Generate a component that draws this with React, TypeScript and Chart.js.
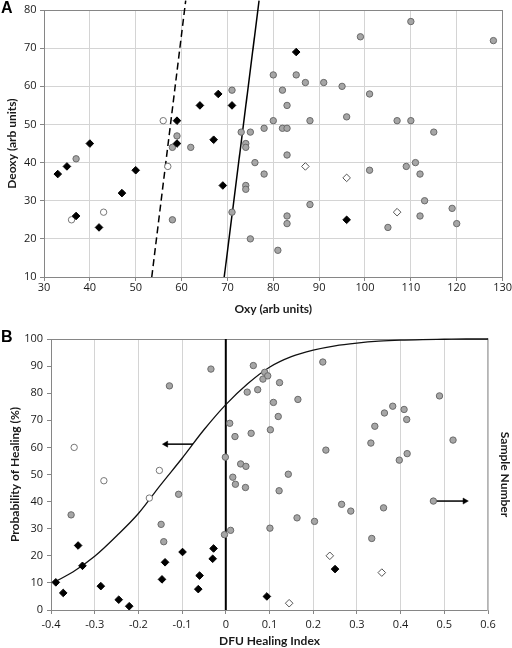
import React, { useEffect, useRef } from 'react';
import { Chart, registerables } from 'chart.js';
Chart.register(...registerables);

// ---------- Panel A data ----------
const aXTicks = [30, 40, 50, 60, 70, 80, 90, 100, 110, 120, 130];
const aYTicks = [10, 20, 30, 40, 50, 60, 70, 80];

const aGrayOxy = [37, 58, 59, 62, 58, 71, 73, 75, 74, 74, 74, 74, 71, 75, 76, 78, 78, 80, 80, 81, 82, 82, 83, 83, 83, 83, 83, 85, 87, 88, 88, 91, 95, 96, 99, 101, 101, 105, 107, 109, 110, 110, 111, 112, 112, 113, 115, 119, 120, 128];
const aGrayDeoxy = [41, 44, 47, 44, 25, 59, 48, 48, 45, 44, 34, 33, 27, 20, 40, 37, 49, 63, 51, 17, 59, 49, 55, 49, 42, 26, 24, 63, 61, 51, 29, 61, 60, 52, 73, 58, 38, 23, 51, 39, 77, 51, 40, 37, 26, 30, 48, 28, 24, 72];

const aBlackOxy = [33, 35, 37, 40, 42, 47, 50, 59, 59, 64, 67, 68, 69, 71, 85, 96];
const aBlackDeoxy = [37, 39, 26, 45, 23, 32, 38, 51, 45, 55, 46, 58, 34, 55, 69, 25];

const aOpenCircleOxy = [36, 43, 56, 57];
const aOpenCircleDeoxy = [25, 27, 51, 39];

const aOpenDiamondOxy = [87, 96, 107];
const aOpenDiamondDeoxy = [39, 36, 27];

const aDashedOxy = [53.5, 60.9];
const aDashedDeoxy = [10, 82.5];
const aSolidOxy = [69.3, 76.9];
const aSolidDeoxy = [10, 82.5];

// ---------- Panel B data ----------
const bXTicks = [-0.4, -0.3, -0.2, -0.1, 0, 0.1, 0.2, 0.3, 0.4, 0.5, 0.6];
const bYTicks = [0, 10, 20, 30, 40, 50, 60, 70, 80, 90, 100];

const bGrayIndex = [-0.354, -0.129, -0.108, -0.148, -0.142, -0.034, -0.003, -0.001, 0.009, 0.011, 0.016, 0.022, 0.021, 0.034, 0.045, 0.046, 0.049, 0.058, 0.063, 0.073, 0.085, 0.089, 0.096, 0.101, 0.102, 0.109, 0.120, 0.122, 0.123, 0.143, 0.163, 0.165, 0.203, 0.222, 0.229, 0.265, 0.286, 0.332, 0.334, 0.341, 0.361, 0.363, 0.382, 0.397, 0.408, 0.414, 0.415, 0.475, 0.489, 0.520];
const bGrayProb = [35.1, 82.7, 42.7, 31.6, 25.2, 88.9, 27.8, 56.4, 68.9, 29.4, 49.0, 46.4, 64.0, 53.9, 45.2, 53.0, 80.4, 65.2, 90.2, 81.3, 85.2, 87.7, 86.4, 30.2, 66.5, 76.6, 71.4, 44.0, 83.9, 50.1, 34.0, 77.7, 32.7, 91.5, 59.0, 39.0, 36.5, 61.6, 26.4, 67.8, 37.7, 72.7, 75.2, 55.3, 74.0, 70.3, 57.7, 40.2, 79.0, 62.7];

const bBlackIndex = [-0.389, -0.372, -0.338, -0.328, -0.286, -0.245, -0.221, -0.146, -0.139, -0.099, -0.063, -0.060, -0.030, -0.028, 0.094, 0.250];
const bBlackProb = [10.2, 6.3, 23.8, 16.3, 8.8, 3.8, 1.4, 11.3, 17.6, 21.4, 7.7, 12.7, 18.9, 22.7, 5.0, 15.1];

const bOpenCircleIndex = [-0.347, -0.279, -0.175, -0.152];
const bOpenCircleProb = [60.0, 47.7, 41.3, 51.5];

const bOpenDiamondIndex = [0.145, 0.238, 0.357];
const bOpenDiamondProb = [2.5, 20.0, 13.8];

const bCurveIndex = [-0.39, -0.35, -0.30, -0.25, -0.20, -0.15, -0.10, -0.05, 0.00, 0.05, 0.10, 0.15, 0.20, 0.25, 0.30, 0.35, 0.40, 0.45, 0.50, 0.55, 0.60];
const bCurveProb = [10.5, 14.0, 19.8, 27.3, 35.6, 46.0, 56.0, 66.5, 75.8, 83.5, 89.6, 93.5, 95.9, 97.5, 98.5, 99.2, 99.6, 99.8, 99.9, 100, 100];

const bZeroIndex = [0, 0];
const bZeroProb = [0, 100];

const bLeftArrowIndex = [-0.075, -0.137];
const bLeftArrowProb = [61.2, 61.2];
const bRightArrowIndex = [0.475, 0.547];
const bRightArrowProb = [40.2, 40.2];

// ---------- helpers ----------
const zip = (xs: number[], ys: number[]) => xs.map((x, i) => ({ x, y: ys[i] }));

const TICK_FONT = { family: "'Open Sans', 'DejaVu Sans', sans-serif", size: 11 };
const TITLE_FONT = { family: "Lato, 'Open Sans', sans-serif", size: 12, weight: 'bold' as const };
const AXIS_COLOR = '#868686';
const GRID_COLOR = '#d4d4d4';
const TEXT_COLOR = '#1a1a1a';

const GRAY_FILL = '#a6a6a6';
const GRAY_EDGE = '#6a6a6a';

function framePlugin(topColor: string, rightColor: string | null) {
  return {
    id: 'frame',
    beforeDatasetsDraw(chart: any) {
      const { ctx, chartArea } = chart;
      const { left, right, top, bottom } = chartArea;
      ctx.save();
      ctx.lineWidth = 1;
      ctx.strokeStyle = topColor;
      ctx.beginPath();
      ctx.moveTo(left, Math.round(top) + 0.5);
      ctx.lineTo(right, Math.round(top) + 0.5);
      ctx.stroke();
      if (rightColor) {
        ctx.strokeStyle = rightColor;
        ctx.beginPath();
        ctx.moveTo(Math.round(right) - 0.5, top);
        ctx.lineTo(Math.round(right) - 0.5, bottom);
        ctx.stroke();
      }
      ctx.restore();
    },
  };
}

function PanelA() {
  const ref = useRef<HTMLCanvasElement>(null);
  useEffect(() => {
    if (!ref.current) return;
    const chart = new Chart(ref.current, {
      type: 'scatter',
      data: {
        datasets: [
          {
            label: 'black',
            data: zip(aBlackOxy, aBlackDeoxy),
            pointStyle: 'rectRot',
            pointRadius: 3.8,
            backgroundColor: '#000',
            borderColor: '#000',
            borderWidth: 1,
            order: 0,
          },
          {
            label: 'gray',
            data: zip(aGrayOxy, aGrayDeoxy),
            pointStyle: 'circle',
            pointRadius: 3.2,
            backgroundColor: GRAY_FILL,
            borderColor: GRAY_EDGE,
            borderWidth: 1,
            order: 0,
          },
          {
            label: 'open circle',
            data: zip(aOpenCircleOxy, aOpenCircleDeoxy),
            pointStyle: 'circle',
            pointRadius: 3.2,
            backgroundColor: '#fff',
            borderColor: '#777',
            borderWidth: 1,
            order: 0,
          },
          {
            label: 'open diamond',
            data: zip(aOpenDiamondOxy, aOpenDiamondDeoxy),
            pointStyle: 'rectRot',
            pointRadius: 3.8,
            backgroundColor: '#fff',
            borderColor: '#555',
            borderWidth: 1,
            order: 0,
          },
          {
            label: 'dashed',
            data: zip(aDashedOxy, aDashedDeoxy),
            showLine: true,
            pointRadius: 0,
            borderColor: '#000',
            borderWidth: 1.5,
            borderDash: [7, 4],
            clip: false as any,
            order: 1,
          },
          {
            label: 'solid',
            data: zip(aSolidOxy, aSolidDeoxy),
            showLine: true,
            pointRadius: 0,
            borderColor: '#000',
            borderWidth: 1.5,
            clip: false as any,
            order: 1,
          },
        ],
      },
      options: {
        animation: false,
        responsive: false,
        layout: { padding: { left: 0, right: 9, top: 10, bottom: 0 } },
        plugins: { legend: { display: false }, tooltip: { enabled: false } },
        scales: {
          x: {
            type: 'linear',
            min: aXTicks[0],
            max: aXTicks[aXTicks.length - 1],
            afterBuildTicks: (s: any) => { s.ticks = aXTicks.map((v) => ({ value: v })); },
            afterFit: (s: any) => { s.height = 45; },
            ticks: { font: TICK_FONT, color: TEXT_COLOR, padding: 0, maxRotation: 0 },
            grid: { color: GRID_COLOR, tickColor: AXIS_COLOR, tickLength: 4 },
            border: { color: AXIS_COLOR },
            title: { display: true, text: 'Oxy (arb units)', font: TITLE_FONT, color: TEXT_COLOR, padding: { top: 0, bottom: 6 } },
          },
          y: {
            type: 'linear',
            min: aYTicks[0],
            max: aYTicks[aYTicks.length - 1],
            afterBuildTicks: (s: any) => { s.ticks = aYTicks.map((v) => ({ value: v })); },
            afterFit: (s: any) => { s.width = 44; },
            ticks: { font: TICK_FONT, color: TEXT_COLOR, padding: 3.5 },
            grid: { color: GRID_COLOR, tickColor: AXIS_COLOR, tickLength: 4 },
            border: { color: AXIS_COLOR },
            title: { display: true, text: 'Deoxy (arb units)', font: TITLE_FONT, color: TEXT_COLOR, padding: { top: 5, bottom: 0 } },
          },
        },
      } as any,
      plugins: [framePlugin(AXIS_COLOR, AXIS_COLOR)],
    });
    return () => chart.destroy();
  }, []);
  return <canvas ref={ref} width={512} height={322} style={{ position: 'absolute', left: 0, top: 0, width: 512, height: 322 }} />;
}

function PanelB() {
  const ref = useRef<HTMLCanvasElement>(null);
  useEffect(() => {
    if (!ref.current) return;
    const chart = new Chart(ref.current, {
      type: 'scatter',
      data: {
        datasets: [
          {
            label: 'black',
            data: zip(bBlackIndex, bBlackProb),
            pointStyle: 'rectRot',
            pointRadius: 3.8,
            backgroundColor: '#000',
            borderColor: '#000',
            borderWidth: 1,
            order: 0,
          },
          {
            label: 'gray',
            data: zip(bGrayIndex, bGrayProb),
            pointStyle: 'circle',
            pointRadius: 3.2,
            backgroundColor: GRAY_FILL,
            borderColor: GRAY_EDGE,
            borderWidth: 1,
            order: 0,
          },
          {
            label: 'open circle',
            data: zip(bOpenCircleIndex, bOpenCircleProb),
            pointStyle: 'circle',
            pointRadius: 3.2,
            backgroundColor: '#fff',
            borderColor: '#777',
            borderWidth: 1,
            order: 0,
          },
          {
            label: 'open diamond',
            data: zip(bOpenDiamondIndex, bOpenDiamondProb),
            pointStyle: 'rectRot',
            pointRadius: 3.8,
            backgroundColor: '#fff',
            borderColor: '#555',
            borderWidth: 1,
            order: 0,
          },
          {
            label: 'curve',
            data: zip(bCurveIndex, bCurveProb),
            showLine: true,
            pointRadius: 0,
            borderColor: '#111',
            borderWidth: 1.3,
            cubicInterpolationMode: 'monotone',
            clip: false as any,
            order: 2,
          },
          {
            label: 'zero',
            data: zip(bZeroIndex, bZeroProb),
            showLine: true,
            pointRadius: 0,
            borderColor: '#000',
            borderWidth: 2,
            order: 3,
          },
          {
            label: 'left arrow',
            data: zip(bLeftArrowIndex, bLeftArrowProb),
            showLine: true,
            pointRadius: [0, 3.5],
            pointStyle: 'triangle',
            rotation: -90,
            pointBackgroundColor: '#000',
            pointBorderColor: '#000',
            pointBorderWidth: 0.5,
            borderColor: '#000',
            borderWidth: 1.5,
            order: 1,
          },
          {
            label: 'right arrow',
            data: zip(bRightArrowIndex, bRightArrowProb),
            showLine: true,
            pointRadius: [0, 3.5],
            pointStyle: 'triangle',
            rotation: 90,
            pointBackgroundColor: '#000',
            pointBorderColor: '#000',
            pointBorderWidth: 0.5,
            borderColor: '#000',
            borderWidth: 1.5,
            order: 1,
          },
        ],
      },
      options: {
        animation: false,
        responsive: false,
        layout: { padding: { left: 0, right: 0, top: 17, bottom: 0 } },
        plugins: { legend: { display: false }, tooltip: { enabled: false } },
        scales: {
          x: {
            type: 'linear',
            min: bXTicks[0],
            max: bXTicks[bXTicks.length - 1],
            afterBuildTicks: (s: any) => { s.ticks = bXTicks.map((v) => ({ value: v })); },
            afterFit: (s: any) => { s.height = 38; },
            ticks: {
              font: TICK_FONT,
              color: TEXT_COLOR,
              padding: 4,
              maxRotation: 0,
              callback: (v: any) => String(Number(Number(v).toFixed(1))),
            },
            grid: { color: GRID_COLOR, tickColor: AXIS_COLOR, tickLength: 4 },
            border: { color: AXIS_COLOR },
            title: { display: true, text: 'DFU Healing Index', font: TITLE_FONT, color: TEXT_COLOR, padding: { top: 0, bottom: 0 } },
          },
          y: {
            type: 'linear',
            position: 'left',
            min: bYTicks[0],
            max: bYTicks[bYTicks.length - 1],
            afterBuildTicks: (s: any) => { s.ticks = bYTicks.map((v) => ({ value: v })); },
            afterFit: (s: any) => { s.width = 51; },
            ticks: { font: TICK_FONT, color: TEXT_COLOR, padding: 4 },
            grid: { drawOnChartArea: false, color: AXIS_COLOR, tickColor: AXIS_COLOR, tickLength: 4 },
            border: { color: AXIS_COLOR },
            title: { display: true, text: 'Probability of Healing (%)', font: TITLE_FONT, color: TEXT_COLOR, padding: { top: 8, bottom: 0 } },
          },
          y2: {
            type: 'linear',
            position: 'right',
            min: bYTicks[0],
            max: bYTicks[bYTicks.length - 1],
            afterFit: (s: any) => { s.width = 24; },
            ticks: { display: false },
            grid: { display: false },
            border: { display: true, color: '#b4b4b4', width: 1.5 },
            title: { display: true, text: 'Sample Number', font: TITLE_FONT, color: TEXT_COLOR, padding: { top: 0, bottom: 0 } },
          },
        },
      } as any,
      plugins: [framePlugin(AXIS_COLOR, null)],
    });
    return () => chart.destroy();
  }, []);
  return <canvas ref={ref} width={512} height={326} style={{ position: 'absolute', left: 0, top: 322, width: 512, height: 326 }} />;
}

const panelLabel: React.CSSProperties = {
  position: 'absolute',
  left: 1,
  fontFamily: "'Liberation Sans', Arial, sans-serif",
  fontWeight: 'bold',
  fontSize: 16,
  lineHeight: '16px',
  color: '#000',
};

export default function App() {
  return (
    <div style={{ position: 'absolute', left: 0, top: 0, width: 512, height: 648, background: '#fff', overflow: 'hidden' }}>
      <PanelA />
      <PanelB />
      <div style={{ ...panelLabel, top: 0 }}>A</div>
      <div style={{ ...panelLabel, top: 329 }}>B</div>
    </div>
  );
}
